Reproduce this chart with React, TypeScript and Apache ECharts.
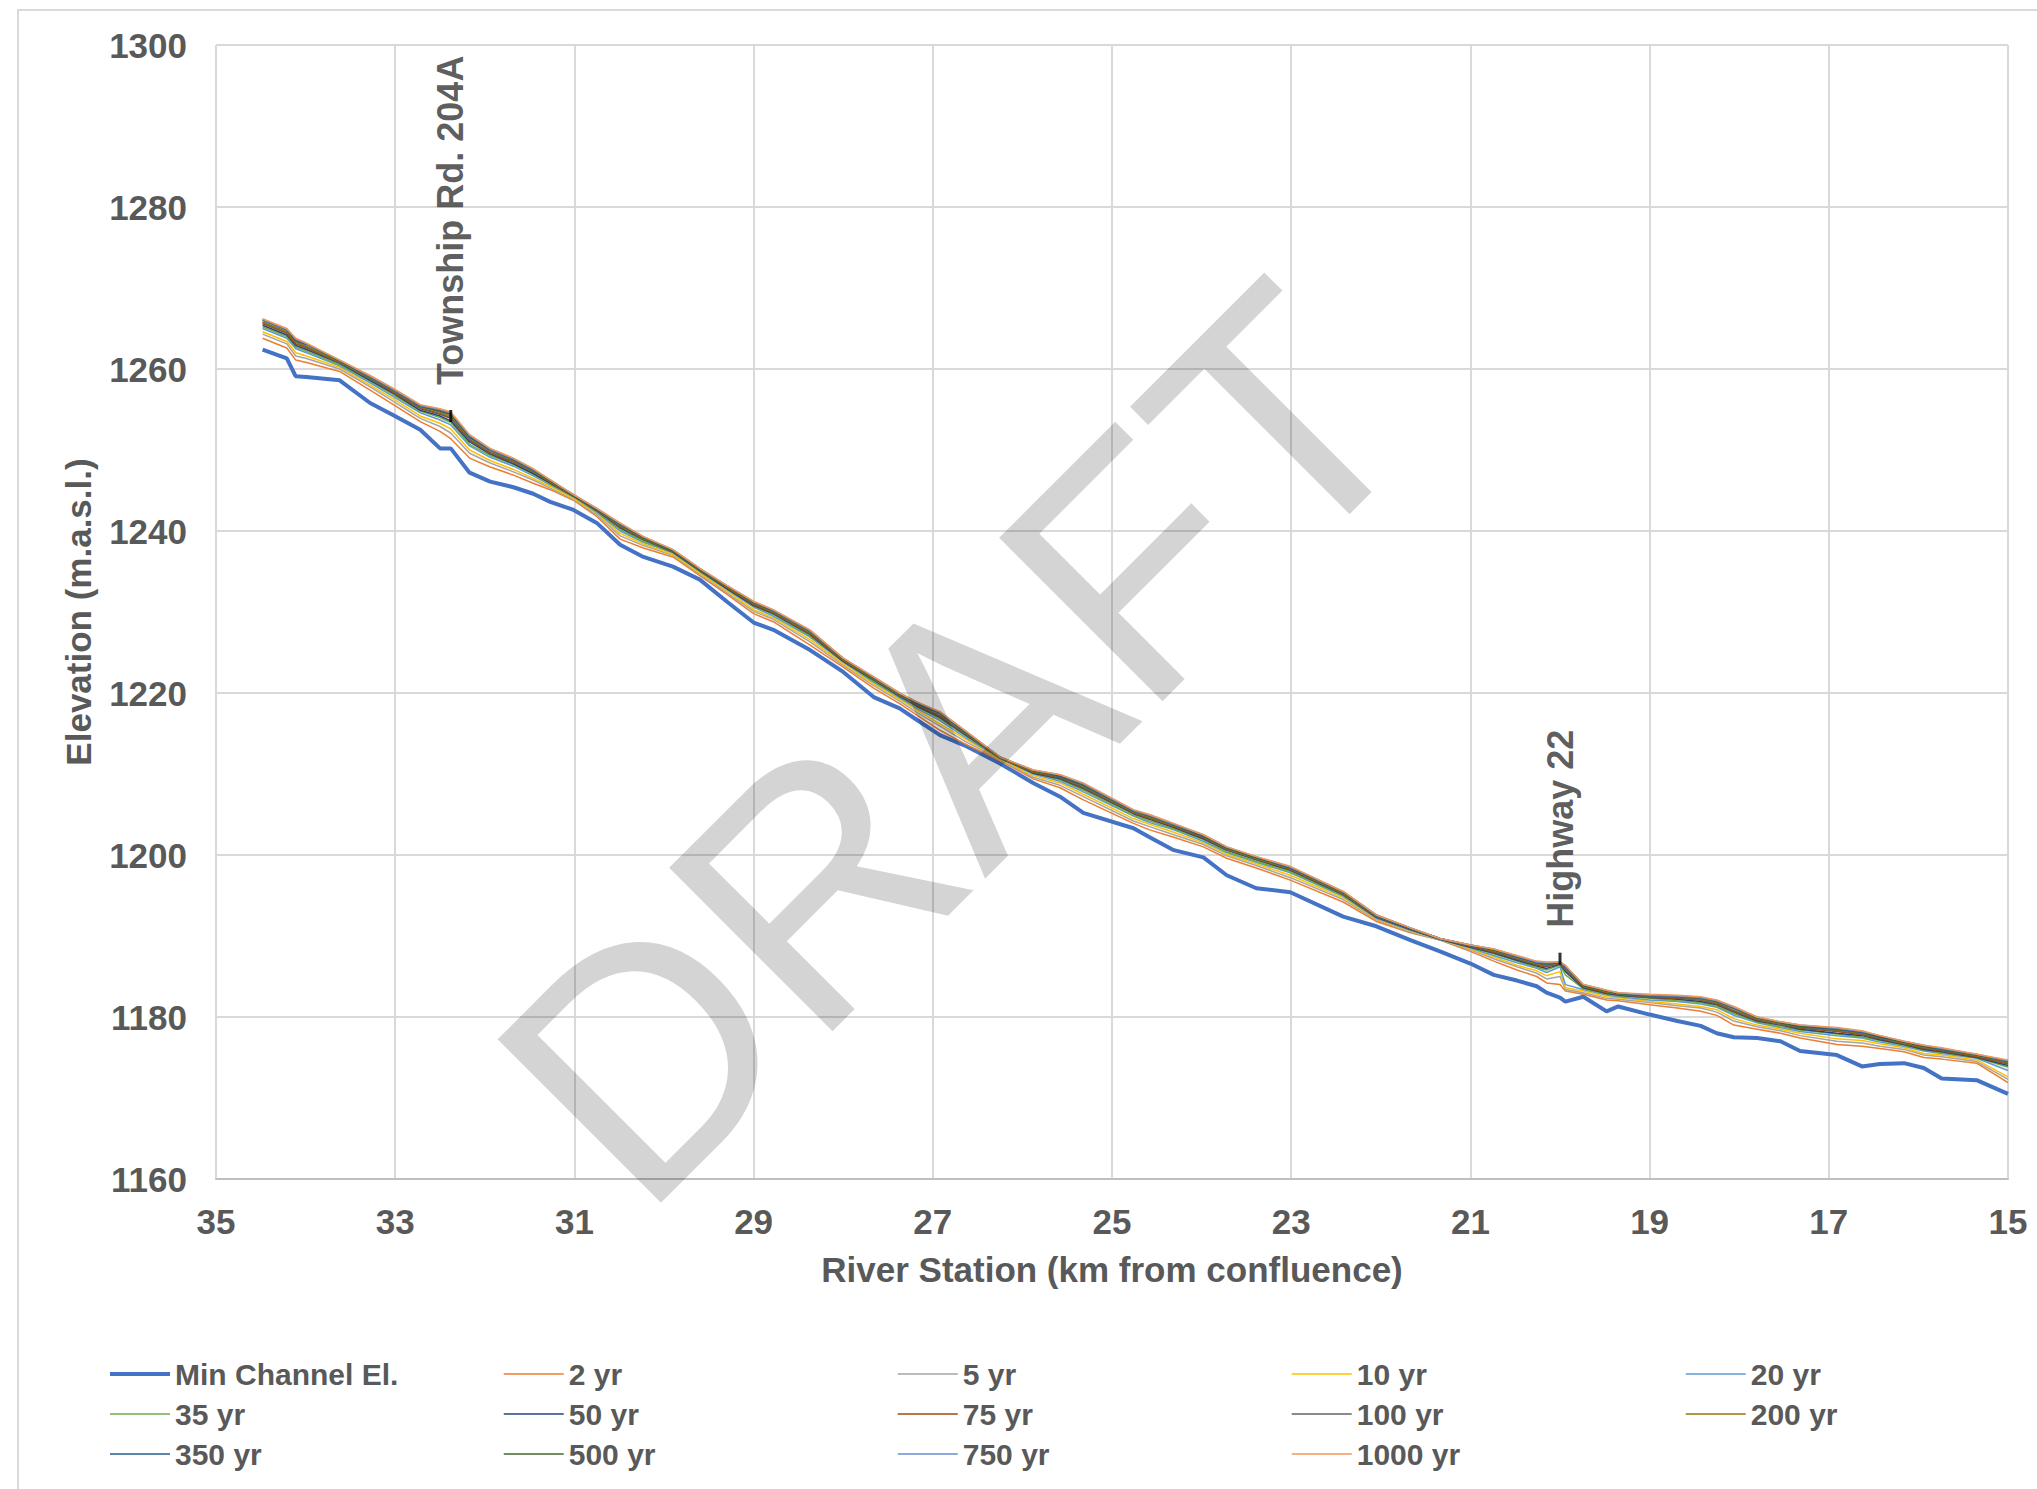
import React, { useEffect, useRef } from "react";
import * as echarts from "echarts";

// River stations (km from confluence)
const STATIONS = [
  34.48, 34.21, 34.11, 33.99, 33.62, 33.28, 33.02, 32.72, 32.5, 32.38,
  32.17, 31.94, 31.68, 31.46, 31.27, 31.01, 30.75, 30.49, 30.23, 29.9,
  29.6, 29.3, 29.0, 28.78, 28.37, 28.0, 27.66, 27.37, 27.18, 26.92,
  26.62, 26.25, 25.88, 25.58, 25.32, 24.76, 24.58, 24.31, 23.98, 23.72,
  23.39, 23.01, 22.42, 22.05, 21.67, 21.34, 21.0, 20.74, 20.48, 20.26,
  20.15, 20.0, 19.94, 19.74, 19.48, 19.35, 19.0, 18.69, 18.43, 18.25,
  18.06, 17.8, 17.54, 17.32, 16.91, 16.63, 16.43, 16.16, 15.94, 15.74,
  15.35, 15.0,
];

const MIN_CHANNEL = [
  1262.4, 1261.3, 1259.1, 1259.0, 1258.6, 1255.8, 1254.3, 1252.5, 1250.2, 1250.2,
  1247.2, 1246.1, 1245.4, 1244.6, 1243.6, 1242.6, 1241.0, 1238.3, 1236.8, 1235.6,
  1234.0, 1231.3, 1228.7, 1227.8, 1225.3, 1222.6, 1219.5, 1218.1, 1216.7, 1214.8,
  1213.4, 1211.3, 1208.9, 1207.2, 1205.2, 1203.3, 1202.2, 1200.6, 1199.7, 1197.5,
  1195.9, 1195.4, 1192.4, 1191.2, 1189.5, 1188.1, 1186.6, 1185.2, 1184.5, 1183.8,
  1183.0, 1182.4, 1181.9, 1182.5, 1180.7, 1181.3, 1180.3, 1179.5, 1178.9, 1178.0,
  1177.5, 1177.4, 1177.0, 1175.8, 1175.3, 1173.9, 1174.2, 1174.3, 1173.7, 1172.4,
  1172.2, 1170.5,
];

const WSE_2 = [
  1263.8, 1262.6, 1261.1, 1260.8, 1259.7, 1257.4, 1255.6, 1253.5, 1252.3, 1251.4,
  1249.0, 1247.9, 1246.9, 1245.9, 1245.1, 1243.8, 1241.8, 1239.0, 1237.9, 1236.8,
  1234.5, 1232.2, 1229.8, 1228.8, 1225.9, 1223.2, 1220.6, 1218.7, 1217.3, 1215.4,
  1213.6, 1211.7, 1209.4, 1208.3, 1206.8, 1203.9, 1203.1, 1202.2, 1201.0, 1199.6,
  1198.4, 1196.9, 1194.2, 1191.8, 1190.4, 1189.5, 1188.1, 1186.9, 1185.8, 1185.0,
  1184.2, 1184.0, 1183.2, 1182.8, 1182.1, 1182.0, 1181.5, 1181.1, 1180.7, 1180.2,
  1179.0, 1178.5, 1178.0, 1177.4, 1176.6, 1176.4, 1176.1, 1175.7, 1175.0, 1174.8,
  1174.3, 1171.9,
];

const WSE_5 = [
  1264.3, 1263.1, 1261.6, 1261.3, 1260.0, 1257.8, 1256.0, 1253.9, 1252.9, 1252.1,
  1249.6, 1248.4, 1247.3, 1246.3, 1245.3, 1243.9, 1242.0, 1239.4, 1238.2, 1237.0,
  1234.7, 1232.4, 1230.1, 1229.1, 1226.3, 1223.4, 1220.9, 1219.0, 1217.6, 1215.9,
  1213.9, 1211.8, 1209.6, 1208.6, 1207.2, 1204.2, 1203.5, 1202.5, 1201.3, 1199.9,
  1198.7, 1197.2, 1194.5, 1192.0, 1190.5, 1189.5, 1188.3, 1187.2, 1186.2, 1185.4,
  1184.7, 1185.0, 1183.4, 1183.0, 1182.3, 1182.2, 1181.8, 1181.4, 1181.1, 1180.6,
  1179.5, 1178.8, 1178.3, 1177.7, 1177.0, 1176.8, 1176.4, 1176.0, 1175.3, 1175.1,
  1174.5, 1172.3,
];

const WSE_10 = [
  1264.6, 1263.4, 1262.0, 1261.6, 1260.2, 1258.0, 1256.3, 1254.2, 1253.3, 1252.6,
  1250.0, 1248.7, 1247.6, 1246.5, 1245.5, 1244.0, 1242.2, 1239.7, 1238.4, 1237.1,
  1234.8, 1232.6, 1230.3, 1229.3, 1226.6, 1223.6, 1221.1, 1219.2, 1217.9, 1216.2,
  1214.2, 1211.8, 1209.8, 1208.9, 1207.5, 1204.5, 1203.8, 1202.8, 1201.5, 1200.1,
  1198.9, 1197.5, 1194.7, 1192.1, 1190.6, 1189.6, 1188.4, 1187.4, 1186.4, 1185.7,
  1185.1, 1185.6, 1183.6, 1183.2, 1182.5, 1182.4, 1181.9, 1181.6, 1181.3, 1180.9,
  1179.8, 1179.0, 1178.5, 1178.0, 1177.3, 1177.1, 1176.7, 1176.2, 1175.5, 1175.3,
  1174.7, 1172.6,
];

const WSE_20 = [
  1265.0, 1263.8, 1262.5, 1262.0, 1260.4, 1258.3, 1256.6, 1254.6, 1253.7, 1253.1,
  1250.5, 1249.1, 1248.0, 1246.8, 1245.7, 1244.2, 1242.3, 1240.0, 1238.6, 1237.3,
  1235.0, 1232.8, 1230.6, 1229.5, 1226.9, 1223.8, 1221.3, 1219.4, 1218.1, 1216.6,
  1214.4, 1211.9, 1210.0, 1209.1, 1207.8, 1204.8, 1204.0, 1203.1, 1201.7, 1200.3,
  1199.1, 1197.8, 1194.9, 1192.2, 1190.7, 1189.6, 1188.5, 1187.6, 1186.7, 1186.0,
  1185.5, 1186.2, 1184.0, 1183.4, 1182.7, 1182.5, 1182.1, 1181.9, 1181.6, 1181.2,
  1180.2, 1179.3, 1178.7, 1178.2, 1177.7, 1177.4, 1176.9, 1176.4, 1175.8, 1175.5,
  1174.9, 1173.4,
];

const WSE_35 = [
  1265.2, 1264.0, 1262.7, 1262.2, 1260.5, 1258.5, 1256.8, 1254.8, 1254.0, 1253.4,
  1250.7, 1249.3, 1248.2, 1247.0, 1245.8, 1244.2, 1242.4, 1240.2, 1238.7, 1237.3,
  1235.0, 1232.9, 1230.7, 1229.7, 1227.0, 1223.9, 1221.4, 1219.5, 1218.3, 1216.8,
  1214.6, 1211.9, 1210.1, 1209.3, 1208.0, 1204.9, 1204.2, 1203.2, 1201.9, 1200.4,
  1199.2, 1197.9, 1195.0, 1192.3, 1190.8, 1189.6, 1188.6, 1187.8, 1186.9, 1186.1,
  1185.8, 1186.4, 1185.2, 1183.5, 1182.8, 1182.6, 1182.3, 1182.0, 1181.8, 1181.3,
  1180.4, 1179.4, 1178.8, 1178.4, 1177.9, 1177.5, 1177.1, 1176.5, 1175.9, 1175.6,
  1175.0, 1173.8,
];

const WSE_50 = [
  1265.4, 1264.2, 1262.9, 1262.4, 1260.7, 1258.6, 1257.0, 1254.9, 1254.2, 1253.6,
  1251.0, 1249.5, 1248.3, 1247.1, 1245.9, 1244.3, 1242.5, 1240.4, 1238.9, 1237.4,
  1235.1, 1232.9, 1230.8, 1229.8, 1227.2, 1223.9, 1221.6, 1219.6, 1218.4, 1217.0,
  1214.7, 1212.0, 1210.1, 1209.4, 1208.2, 1205.1, 1204.4, 1203.4, 1202.0, 1200.6,
  1199.4, 1198.1, 1195.1, 1192.3, 1190.8, 1189.6, 1188.6, 1187.9, 1187.0, 1186.3,
  1186.0, 1186.5, 1185.6, 1183.6, 1182.9, 1182.7, 1182.4, 1182.2, 1181.9, 1181.5,
  1180.6, 1179.5, 1179.0, 1178.5, 1178.0, 1177.7, 1177.2, 1176.6, 1176.0, 1175.7,
  1175.0, 1174.0,
];

const WSE_75 = [
  1265.6, 1264.4, 1263.1, 1262.6, 1260.8, 1258.8, 1257.1, 1255.1, 1254.4, 1253.9,
  1251.2, 1249.6, 1248.5, 1247.3, 1246.0, 1244.3, 1242.6, 1240.5, 1239.0, 1237.5,
  1235.2, 1233.0, 1230.9, 1229.9, 1227.3, 1224.0, 1221.7, 1219.7, 1218.5, 1217.1,
  1214.8, 1212.0, 1210.2, 1209.5, 1208.3, 1205.2, 1204.5, 1203.5, 1202.1, 1200.7,
  1199.5, 1198.2, 1195.2, 1192.4, 1190.9, 1189.7, 1188.7, 1188.0, 1187.2, 1186.4,
  1186.2, 1186.6, 1185.8, 1183.7, 1183.0, 1182.8, 1182.4, 1182.3, 1182.1, 1181.6,
  1180.7, 1179.6, 1179.1, 1178.6, 1178.2, 1177.8, 1177.3, 1176.7, 1176.1, 1175.8,
  1175.1, 1174.2,
];

const WSE_100 = [
  1265.7, 1264.5, 1263.3, 1262.7, 1260.8, 1258.8, 1257.2, 1255.2, 1254.5, 1254.0,
  1251.3, 1249.7, 1248.6, 1247.3, 1246.1, 1244.4, 1242.6, 1240.6, 1239.0, 1237.5,
  1235.2, 1233.1, 1231.0, 1230.0, 1227.4, 1224.1, 1221.7, 1219.7, 1218.6, 1217.2,
  1214.9, 1212.0, 1210.3, 1209.6, 1208.4, 1205.3, 1204.6, 1203.6, 1202.2, 1200.7,
  1199.5, 1198.3, 1195.2, 1192.4, 1190.9, 1189.7, 1188.7, 1188.1, 1187.2, 1186.5,
  1186.3, 1186.6, 1186.0, 1183.8, 1183.1, 1182.8, 1182.5, 1182.4, 1182.1, 1181.7,
  1180.8, 1179.7, 1179.1, 1178.7, 1178.3, 1177.9, 1177.4, 1176.7, 1176.2, 1175.9,
  1175.2, 1174.3,
];

const WSE_200 = [
  1265.8, 1264.6, 1263.4, 1262.8, 1260.9, 1258.9, 1257.3, 1255.3, 1254.7, 1254.2,
  1251.5, 1249.9, 1248.7, 1247.4, 1246.1, 1244.4, 1242.7, 1240.7, 1239.1, 1237.6,
  1235.3, 1233.1, 1231.1, 1230.0, 1227.5, 1224.1, 1221.8, 1219.8, 1218.7, 1217.4,
  1215.0, 1212.0, 1210.3, 1209.7, 1208.5, 1205.3, 1204.7, 1203.6, 1202.3, 1200.8,
  1199.6, 1198.3, 1195.3, 1192.5, 1190.9, 1189.7, 1188.8, 1188.2, 1187.3, 1186.6,
  1186.4, 1186.7, 1186.1, 1183.8, 1183.1, 1182.9, 1182.6, 1182.5, 1182.2, 1181.8,
  1181.0, 1179.8, 1179.2, 1178.8, 1178.4, 1178.0, 1177.5, 1176.8, 1176.3, 1176.0,
  1175.2, 1174.4,
];

const WSE_350 = [
  1266.0, 1264.8, 1263.5, 1263.0, 1261.0, 1259.0, 1257.4, 1255.4, 1254.8, 1254.4,
  1251.6, 1250.0, 1248.8, 1247.5, 1246.2, 1244.4, 1242.7, 1240.8, 1239.2, 1237.6,
  1235.3, 1233.2, 1231.2, 1230.1, 1227.6, 1224.2, 1221.9, 1219.9, 1218.7, 1217.5,
  1215.0, 1212.1, 1210.4, 1209.7, 1208.6, 1205.4, 1204.8, 1203.7, 1202.3, 1200.9,
  1199.7, 1198.4, 1195.4, 1192.5, 1190.9, 1189.7, 1188.8, 1188.3, 1187.4, 1186.7,
  1186.5, 1186.7, 1186.2, 1183.9, 1183.2, 1182.9, 1182.6, 1182.5, 1182.3, 1181.9,
  1181.1, 1179.9, 1179.3, 1178.8, 1178.5, 1178.1, 1177.5, 1176.9, 1176.4, 1176.0,
  1175.3, 1174.5,
];

const WSE_500 = [
  1266.1, 1264.9, 1263.6, 1263.1, 1261.0, 1259.1, 1257.5, 1255.5, 1254.9, 1254.5,
  1251.7, 1250.1, 1248.9, 1247.6, 1246.2, 1244.5, 1242.7, 1240.9, 1239.2, 1237.6,
  1235.3, 1233.2, 1231.2, 1230.2, 1227.7, 1224.2, 1221.9, 1219.9, 1218.8, 1217.6,
  1215.1, 1212.1, 1210.4, 1209.8, 1208.7, 1205.5, 1204.8, 1203.8, 1202.4, 1200.9,
  1199.7, 1198.5, 1195.4, 1192.6, 1191.0, 1189.7, 1188.9, 1188.3, 1187.5, 1186.8,
  1186.6, 1186.8, 1186.3, 1183.9, 1183.2, 1182.9, 1182.7, 1182.6, 1182.4, 1182.0,
  1181.2, 1179.9, 1179.3, 1178.9, 1178.6, 1178.2, 1177.6, 1176.9, 1176.4, 1176.1,
  1175.3, 1174.6,
];

const WSE_750 = [
  1266.1, 1264.9, 1263.7, 1263.1, 1261.1, 1259.1, 1257.5, 1255.5, 1255.0, 1254.6,
  1251.8, 1250.1, 1248.9, 1247.6, 1246.3, 1244.5, 1242.8, 1240.9, 1239.3, 1237.7,
  1235.4, 1233.3, 1231.3, 1230.2, 1227.7, 1224.3, 1222.0, 1220.0, 1218.9, 1217.6,
  1215.2, 1212.1, 1210.5, 1209.9, 1208.8, 1205.5, 1204.9, 1203.8, 1202.5, 1201.0,
  1199.8, 1198.5, 1195.5, 1192.6, 1191.0, 1189.7, 1188.9, 1188.4, 1187.5, 1186.8,
  1186.7, 1186.8, 1186.3, 1184.0, 1183.3, 1183.0, 1182.7, 1182.6, 1182.4, 1182.0,
  1181.2, 1180.0, 1179.4, 1179.0, 1178.6, 1178.2, 1177.7, 1177.0, 1176.5, 1176.1,
  1175.4, 1174.6,
];

const WSE_1000 = [
  1266.2, 1265.0, 1263.8, 1263.2, 1261.1, 1259.2, 1257.6, 1255.6, 1255.1, 1254.7,
  1251.9, 1250.2, 1249.0, 1247.7, 1246.3, 1244.5, 1242.8, 1241.0, 1239.3, 1237.7,
  1235.4, 1233.3, 1231.3, 1230.3, 1227.8, 1224.3, 1222.0, 1220.0, 1218.9, 1217.7,
  1215.2, 1212.1, 1210.5, 1209.9, 1208.9, 1205.6, 1205.0, 1203.9, 1202.5, 1201.0,
  1199.8, 1198.6, 1195.5, 1192.6, 1191.0, 1189.7, 1188.9, 1188.4, 1187.6, 1186.9,
  1186.8, 1186.8, 1186.4, 1184.0, 1183.3, 1183.0, 1182.8, 1182.7, 1182.5, 1182.1,
  1181.3, 1180.0, 1179.4, 1179.0, 1178.7, 1178.3, 1177.7, 1177.0, 1176.5, 1176.2,
  1175.4, 1174.7,
];

const SERIES_NAMES = [
  "Min Channel El.", "2 yr", "5 yr", "10 yr", "20 yr", "35 yr", "50 yr",
  "75 yr", "100 yr", "200 yr", "350 yr", "500 yr", "750 yr", "1000 yr",
];
const SERIES_VALUES = [
  MIN_CHANNEL, WSE_2, WSE_5, WSE_10, WSE_20, WSE_35, WSE_50,
  WSE_75, WSE_100, WSE_200, WSE_350, WSE_500, WSE_750, WSE_1000,
];
const SERIES_COLORS = [
  "#4472C4", "#ED7D31", "#A5A5A5", "#FFC000", "#5B9BD5", "#70AD47", "#264478",
  "#9E480E", "#636363", "#997300", "#255E91", "#43682B", "#698ED0", "#F1975A",
];

// Bridge crossings
const BRIDGE_NAMES = ["Township Rd. 204A", "Highway 22"];
const BRIDGE_STATIONS = [32.38, 20.0];
const BRIDGE_ELEVATIONS = [1254.2, 1187.2];

// Axis ticks
const X_MIN = 15, X_MAX = 35, X_STEP = 2;
const Y_MIN = 1160, Y_MAX = 1300, Y_STEP = 20;

const LEGEND_COLUMNS = [
  ["Min Channel El.", "35 yr", "350 yr"],
  ["2 yr", "50 yr", "500 yr"],
  ["5 yr", "75 yr", "750 yr"],
  ["10 yr", "100 yr", "1000 yr"],
  ["20 yr", "200 yr"],
];
const LEGEND_LEFTS = [108, 503, 897, 1291, 1685];

const FONT = "'Liberation Sans', Arial, Helvetica, sans-serif";
const TEXT_COLOR = "#595959";

export default function App() {
  const ref = useRef<HTMLDivElement>(null);

  useEffect(() => {
    if (!ref.current) return;
    const chart = echarts.init(ref.current, undefined, { renderer: "svg" });

    const lineSeries = SERIES_NAMES.map((name, i) => ({
      name,
      type: "line",
      data: STATIONS.map((s, j) => [s, SERIES_VALUES[i][j]]),
      symbol: "none",
      showSymbol: false,
      color: SERIES_COLORS[i],
      lineStyle: { color: SERIES_COLORS[i], width: i === 0 ? 4 : 1.5 },
      z: 2,
    }));

    const bridgeSeries = {
      name: "Bridges",
      type: "scatter",
      data: BRIDGE_NAMES.map((n, i) => ({
        name: n,
        value: [BRIDGE_STATIONS[i], BRIDGE_ELEVATIONS[i]],
      })),
      symbol: "rect",
      symbolSize: [3, 12],
      itemStyle: { color: "#000000" },
      label: {
        show: true,
        position: "top",
        distance: 25,
        rotate: 90,
        align: "left",
        verticalAlign: "middle",
        formatter: "{b}",
        fontSize: 36,
        fontWeight: "bold",
        fontFamily: FONT,
        color: "#333333",
      },
      z: 5,
    };

    const option: any = {
      animation: false,
      textStyle: { fontFamily: FONT },
      grid: { left: 216, right: 29, top: 45, bottom: 310, containLabel: false },
      xAxis: {
        type: "value",
        min: X_MIN,
        max: X_MAX,
        interval: X_STEP,
        inverse: true,
        name: "River Station (km from confluence)",
        nameLocation: "middle",
        nameGap: 73,
        nameTextStyle: { fontSize: 35, fontWeight: "bold", color: TEXT_COLOR, fontFamily: FONT },
        axisLine: { show: true, lineStyle: { color: "#bfbfbf", width: 2 } },
        axisTick: { show: false },
        axisLabel: {
          fontSize: 35, fontWeight: "bold", color: TEXT_COLOR, margin: 25, fontFamily: FONT,
          formatter: (v: number) => String(v),
        },
        splitLine: { show: true, lineStyle: { color: "#d9d9d9", width: 2 } },
      },
      yAxis: {
        type: "value",
        min: Y_MIN,
        max: Y_MAX,
        interval: Y_STEP,
        name: "Elevation (m.a.s.l.)",
        nameLocation: "middle",
        nameGap: 120,
        nameRotate: 90,
        nameTextStyle: { fontSize: 35, fontWeight: "bold", color: TEXT_COLOR, fontFamily: FONT },
        axisLine: { show: false },
        axisTick: { show: false },
        axisLabel: {
          fontSize: 35, fontWeight: "bold", color: TEXT_COLOR, margin: 29, fontFamily: FONT,
          formatter: (v: number) => String(v),
        },
        splitLine: { show: true, lineStyle: { color: "#d9d9d9", width: 2 } },
      },
      legend: LEGEND_COLUMNS.map((names, i) => ({
        orient: "vertical",
        left: LEGEND_LEFTS[i],
        top: 1359,
        padding: 0,
        itemWidth: 60,
        itemHeight: 30,
        itemGap: 10,
        selectedMode: false,
        itemStyle: { opacity: 0 },
        lineStyle: { width: "inherit" },
        data: names,
        textStyle: {
          fontSize: 30,
          fontWeight: "bold",
          color: TEXT_COLOR,
          fontFamily: FONT,
          lineHeight: 30,
        },
      })),
      graphic: [
        {
          type: "rect",
          silent: true,
          z: -10,
          shape: { x: 18, y: 10, width: 2200, height: 1700 },
          style: { fill: "none", stroke: "#d9d9d9", lineWidth: 2 },
        },
        {
          type: "text",
          silent: true,
          z: 100,
          x: 955,
          y: 744,
          rotation: Math.PI / 4,
          style: {
            text: "DRAFT",
            fontSize: 336,
            fontFamily: FONT,
            fontWeight: "normal",
            fill: "rgba(0,0,0,0.17)",
            align: "center",
            verticalAlign: "middle",
          },
        },
      ],
      series: [...lineSeries, bridgeSeries],
    };

    chart.setOption(option);
    return () => chart.dispose();
  }, []);

  return (
    <div
      ref={ref}
      style={{ position: "absolute", left: 0, top: 0, width: 2037, height: 1489, background: "#ffffff" }}
    />
  );
}
